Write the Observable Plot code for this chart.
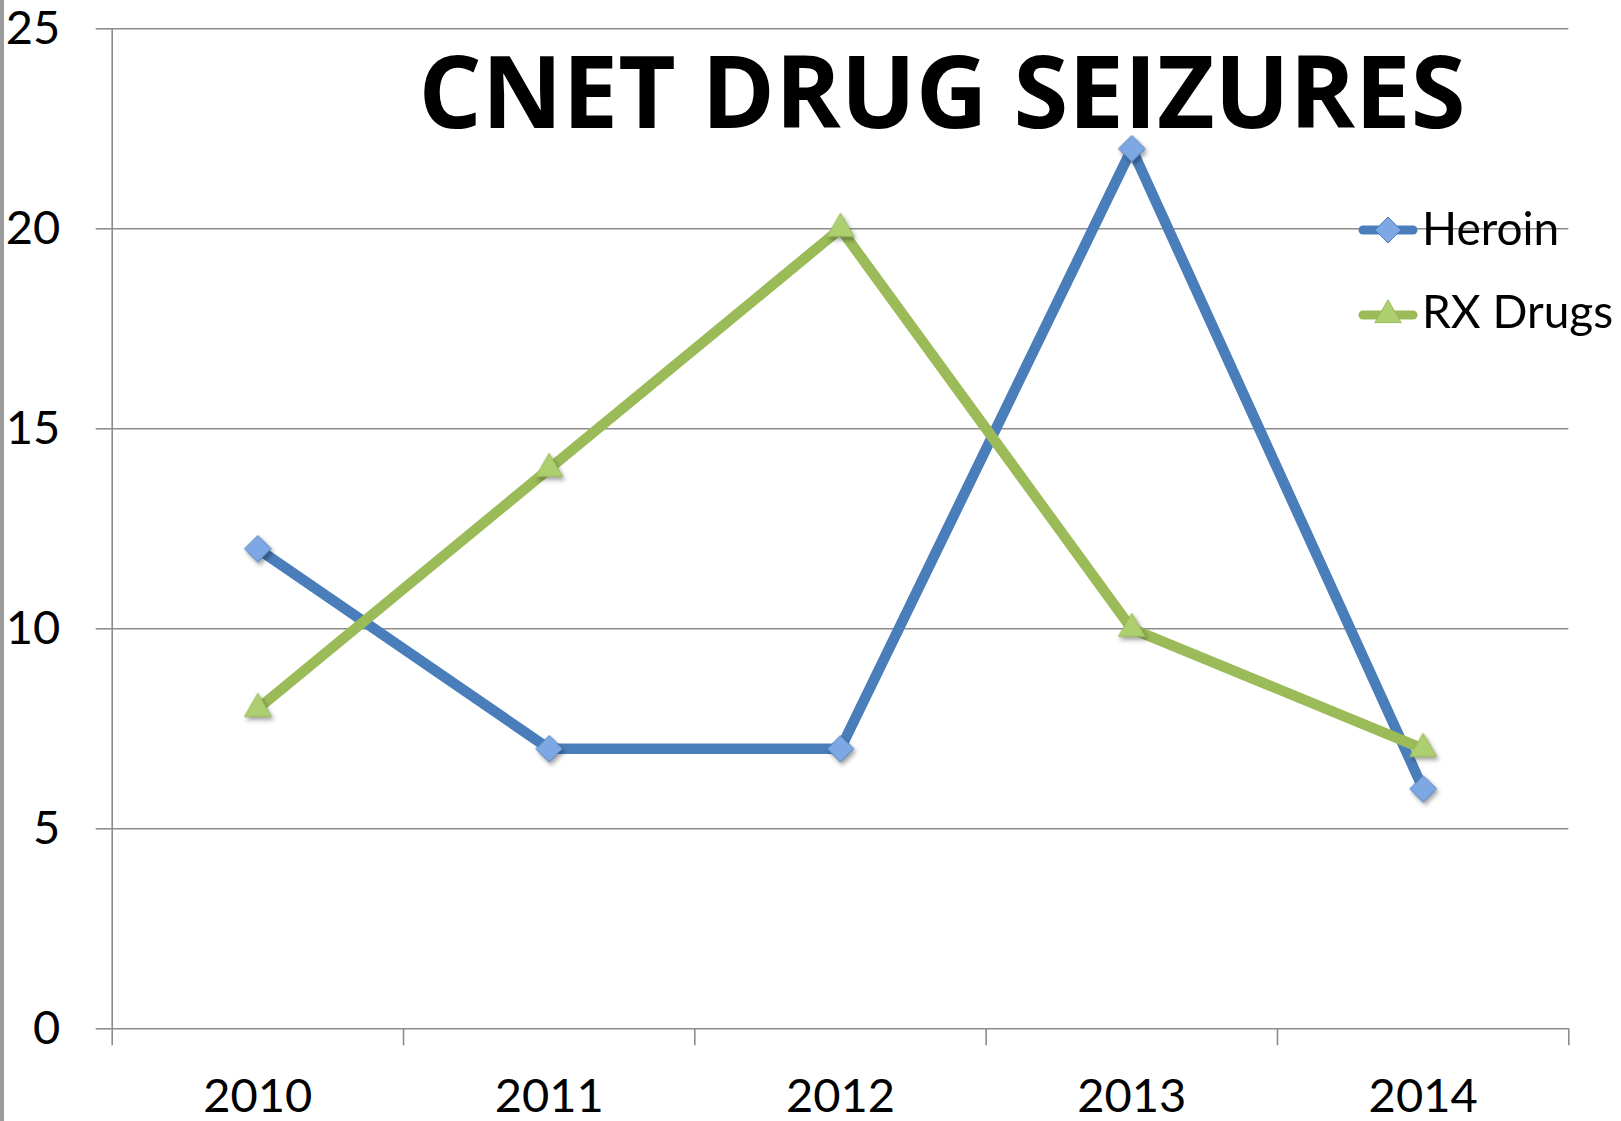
<!DOCTYPE html>
<html>
<head>
<meta charset="utf-8">
<script src="https://cdn.jsdelivr.net/npm/d3@7"></script>
<script src="https://cdn.jsdelivr.net/npm/@observablehq/plot@0.6"></script>
<style>
  html, body { margin: 0; padding: 0; background: #fff; }
  #wrap { position: relative; width: 1621px; height: 1121px; overflow: hidden; }
  #edge { position: absolute; left: 0; top: 0; width: 4px; height: 1121px; background: #9c9c9c; }
  .shadow { filter: drop-shadow(2px 3px 2px rgba(0,0,0,0.35)); }
</style>
</head>
<body>
<div id="wrap"><div id="edge"></div></div>
<script>
const title = "CNET DRUG SEIZURES";
const years = [2010, 2011, 2012, 2013, 2014];
const heroin = [12, 7, 7, 22, 6];
const rxDrugs = [8, 14, 20, 10, 7];
const seriesNames = ["Heroin", "RX Drugs"];
const seriesColors = ["#4A7EBB", "#9BBB59"];
const markerFills = ["#7EA8E4", "#AECF70"];
const yTicks = [0, 5, 10, 15, 20, 25];
const boundaries = [2009.5, 2010.5, 2011.5, 2012.5, 2013.5, 2014.5];

const heroinData = years.map((year, i) => ({year, value: heroin[i]}));
const rxData = years.map((year, i) => ({year, value: rxDrugs[i]}));

const gridColor = "#8c8c8c";
const font = "Lato, 'Open Sans', sans-serif";

const chart = Plot.plot({
  width: 1621,
  height: 1121,
  marginLeft: 111.7,
  marginRight: 52.7,
  marginTop: 28.3,
  marginBottom: 92.7,
  style: {fontFamily: font, background: "transparent", overflow: "visible"},
  x: {type: "linear", domain: [2009.5, 2014.5]},
  y: {domain: [0, 25]},
  marks: [
    Plot.ruleY(yTicks, {stroke: gridColor, strokeWidth: 1.6}),
    Plot.ruleX([boundaries[0]], {y1: 0, y2: 25, stroke: gridColor, strokeWidth: 1.6}),
    Plot.axisY({ticks: yTicks, tickSize: 16, tickPadding: 36, fontSize: 47, stroke: gridColor, strokeWidth: 1.6, fill: "black", label: null}),
    Plot.axisX({ticks: boundaries, tickSize: 17, tickFormat: () => "", stroke: gridColor, strokeWidth: 1.6, label: null}),
    Plot.axisX({ticks: years, tickSize: 0, tickPadding: 50, tickFormat: d3.format("d"), fontSize: 47, fill: "black", label: null}),
    Plot.line(heroinData, {x: "year", y: "value", stroke: seriesColors[0], strokeWidth: 10.5, strokeLinejoin: "round"}),
    Plot.dot(heroinData, {x: "year", y: "value", symbol: "diamond2", r: 12, fill: markerFills[0], stroke: seriesColors[0], strokeWidth: 1, className: "shadow"}),
    Plot.line(rxData, {x: "year", y: "value", stroke: seriesColors[1], strokeWidth: 10.5, strokeLinejoin: "round"}),
    Plot.dot(rxData, {x: "year", y: "value", symbol: "triangle", r: 10, fill: markerFills[1], stroke: seriesColors[1], strokeWidth: 1, className: "shadow"})
  ]
});

document.getElementById("wrap").appendChild(chart);
chart.style.position = "absolute";
chart.style.left = "0px";
chart.style.top = "0px";

const svg = d3.select(chart);

// Title inside plot area
svg.append("text")
  .attr("x", 942)
  .attr("y", 128)
  .attr("text-anchor", "middle")
  .attr("font-family", "'Open Sans', Lato, sans-serif")
  .attr("font-weight", "bold")
  .attr("font-size", 101)
  .attr("fill", "black")
  .attr("textLength", 1047)
  .attr("lengthAdjust", "spacingAndGlyphs")
  .text(title);

// Legend
const legendRows = [
  {name: seriesNames[0], color: seriesColors[0], fill: markerFills[0], symbol: d3.symbolDiamond2, size: 430, cy: 230, base: 245},
  {name: seriesNames[1], color: seriesColors[1], fill: markerFills[1], symbol: d3.symbolTriangle, size: 300, cy: 315, base: 328}
];
const lg = svg.append("g");
legendRows.forEach(r => {
  lg.append("line")
    .attr("x1", 1363).attr("x2", 1413)
    .attr("y1", r.cy).attr("y2", r.cy)
    .attr("stroke", r.color).attr("stroke-width", 9).attr("stroke-linecap", "round");
  lg.append("path")
    .attr("d", d3.symbol(r.symbol, r.size)())
    .attr("transform", `translate(1388,${r.cy})`)
    .attr("fill", r.fill).attr("stroke", r.color).attr("stroke-width", 1);
  lg.append("text")
    .attr("x", 1422).attr("y", r.base)
    .attr("text-anchor", "start")
    .attr("font-family", font).attr("font-size", 46).attr("fill", "black")
    .text(r.name);
});
</script>
</body>
</html>
